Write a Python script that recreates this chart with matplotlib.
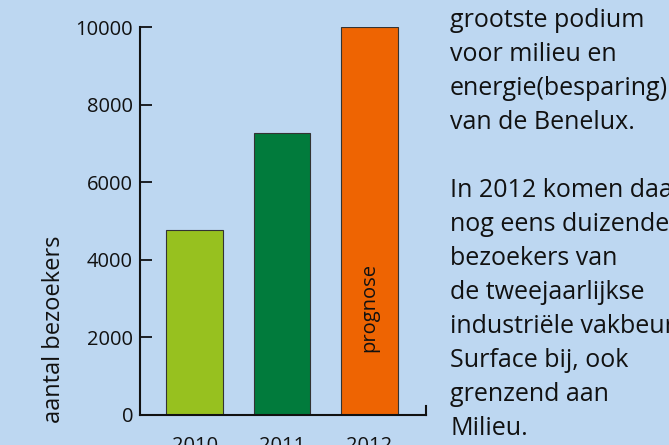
import numpy as np
import matplotlib.pyplot as plt

# DATOS -------------------------------------------------------------------
years    = ["2010", "2011", "2012"]
visitors = [4770, 7280, 10000]
colors   = ["#97c11f", "#017b3c", "#ee6402"]
yticks   = [0, 2000, 4000, 6000, 8000, 10000]

side_text = [
    "grootste podium",
    "voor milieu en",
    "energie(besparing)",
    "van de Benelux.",
    "",
    "In 2012 komen daar",
    "nog eens duizenden",
    "bezoekers van",
    "de tweejaarlijkse",
    "industriële vakbeurs",
    "Surface bij, ook",
    "grenzend aan",
    "Milieu.",
]

BG = "#bdd7f1"
W, H = 669, 445

plt.rcParams["font.family"] = ["Open Sans", "DejaVu Sans"]

fig = plt.figure(figsize=(W / 100, H / 100), dpi=100, facecolor=BG)
ax = fig.add_axes([140 / W, 30 / H, 286 / W, 388 / H])
ax.set_facecolor(BG)

x = np.arange(len(years))
ax.bar(x, visitors, width=0.655, color=colors, edgecolor="#333333", linewidth=0.8, zorder=2)

ax.set_xlim(-0.632, 2.655)
ax.set_ylim(0, 10000)
ax.set_yticks(yticks)
ax.set_yticklabels([str(v) for v in yticks], fontsize=14.5, color="#111111")
ax.tick_params(axis="y", direction="in", length=8.6, width=1.2, pad=5)
ax.set_xticks(x)
ax.set_xticklabels(years, fontsize=14.5, color="#111111")
ax.tick_params(axis="x", length=0, pad=15)

ax.spines["top"].set_visible(False)
for s in ["left", "bottom", "right"]:
    ax.spines[s].set_linewidth(1.5)
    ax.spines[s].set_color("#111111")
ax.spines["right"].set_bounds(0, 230)

# etiqueta "prognose" dentro de la barra 2012
ax.text(x[2], 1620, "prognose", rotation=90, ha="center", va="bottom", fontsize=14.5, color="#111111")

# titulo eje y
fig.text(54 / W, 1 - 423 / H, "aantal bezoekers", rotation=90, ha="center", va="bottom", fontsize=17, color="#111111")

# texto lateral
for i, line in enumerate(side_text):
    fig.text(450 / W, 1 - (27 + 34 * i) / H, line, ha="left", va="baseline", fontsize=18, color="#111111")

fig.savefig("out.png", dpi=100, facecolor=BG)
